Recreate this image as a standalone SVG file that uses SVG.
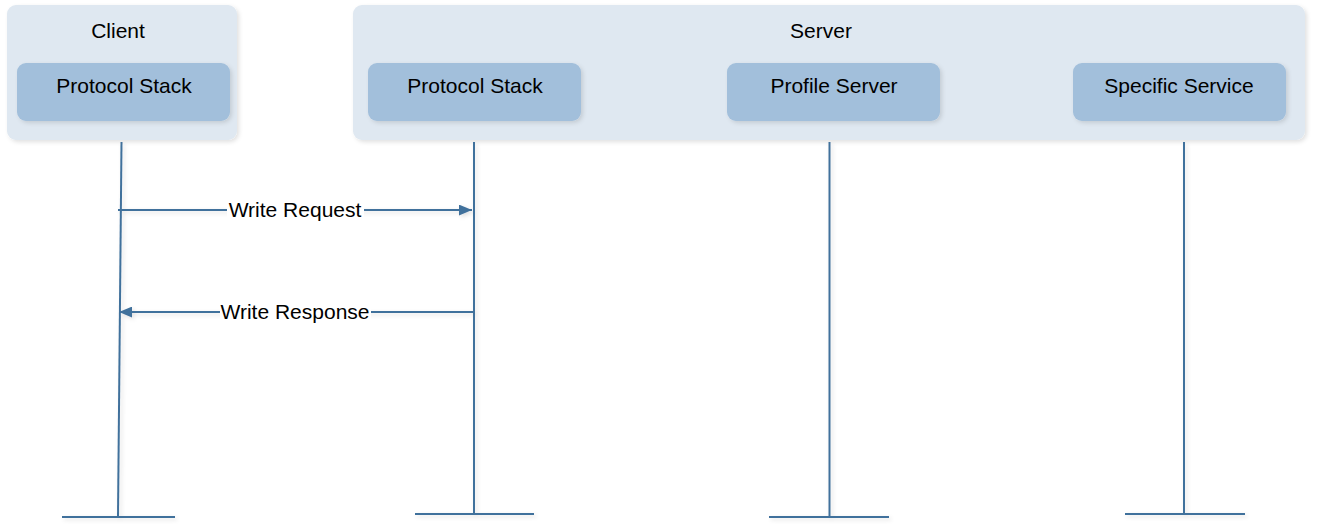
<svg xmlns="http://www.w3.org/2000/svg" width="1320" height="531" viewBox="0 0 1320 531">
<style>
.cont{fill:#dfe8f1;}
.box{fill:#a2bfdb;}
.t{font-family:"Liberation Sans",Arial,sans-serif;font-size:21px;fill:#000;text-anchor:middle;}
.ln{stroke:#41719c;stroke-width:2;fill:none;}
.lbl{fill:#fff;}
</style>
<defs>
<filter id="sh" x="-5%" y="-10%" width="115%" height="130%">
<feDropShadow dx="2" dy="2" stdDeviation="2" flood-color="#000" flood-opacity="0.12"/>
</filter>
<marker id="ah" viewBox="0 0 12 10" refX="12" refY="5" markerWidth="13" markerHeight="11" markerUnits="userSpaceOnUse" orient="auto">
<path d="M0,0 L12,5 L0,10 z" fill="#41719c"/>
</marker>
</defs>
<g id="client">
<rect class="cont" x="7" y="5" width="230" height="135" rx="9" filter="url(#sh)"/>
<text class="t" x="118" y="38">Client</text>
</g>
<g id="client-stack">
<rect class="box" x="17" y="63" width="213" height="58" rx="9" filter="url(#sh)"/>
<text class="t" x="124" y="93">Protocol Stack</text>
</g>
<g id="server">
<rect class="cont" x="353" y="5" width="952" height="135" rx="9" filter="url(#sh)"/>
<text class="t" x="821" y="38">Server</text>
</g>
<g id="server-stack">
<rect class="box" x="368" y="63" width="213" height="58" rx="9" filter="url(#sh)"/>
<text class="t" x="475" y="93">Protocol Stack</text>
</g>
<g id="profile-server">
<rect class="box" x="727" y="63" width="213" height="58" rx="9" filter="url(#sh)"/>
<text class="t" x="834" y="93">Profile Server</text>
</g>
<g id="specific-service">
<rect class="box" x="1073" y="63" width="213" height="58" rx="9" filter="url(#sh)"/>
<text class="t" x="1179" y="93">Specific Service</text>
</g>
<g id="connectors" filter="url(#sh)">
<line class="ln" x1="121.5" y1="142" x2="118" y2="517"/>
<line class="ln" x1="62" y1="517" x2="175" y2="517"/>
<line class="ln" x1="474" y1="142" x2="474" y2="513"/>
<line class="ln" x1="415" y1="514" x2="534" y2="514"/>
<line class="ln" x1="829.5" y1="142" x2="829.5" y2="517"/>
<line class="ln" x1="769" y1="517" x2="889" y2="517"/>
<line class="ln" x1="1184" y1="142" x2="1184" y2="513"/>
<line class="ln" x1="1125" y1="514" x2="1245" y2="514"/>
<line class="ln" x1="118" y1="210" x2="472" y2="210" marker-end="url(#ah)"/>
<line class="ln" x1="473" y1="312" x2="119" y2="312" marker-end="url(#ah)"/>
</g>
<g id="labels">
<rect class="lbl" x="227" y="199" width="137" height="22"/>
<text class="t" x="295" y="217">Write Request</text>
<rect class="lbl" x="220" y="301" width="151" height="22"/>
<text class="t" x="295" y="319">Write Response</text>
</g>
</svg>
